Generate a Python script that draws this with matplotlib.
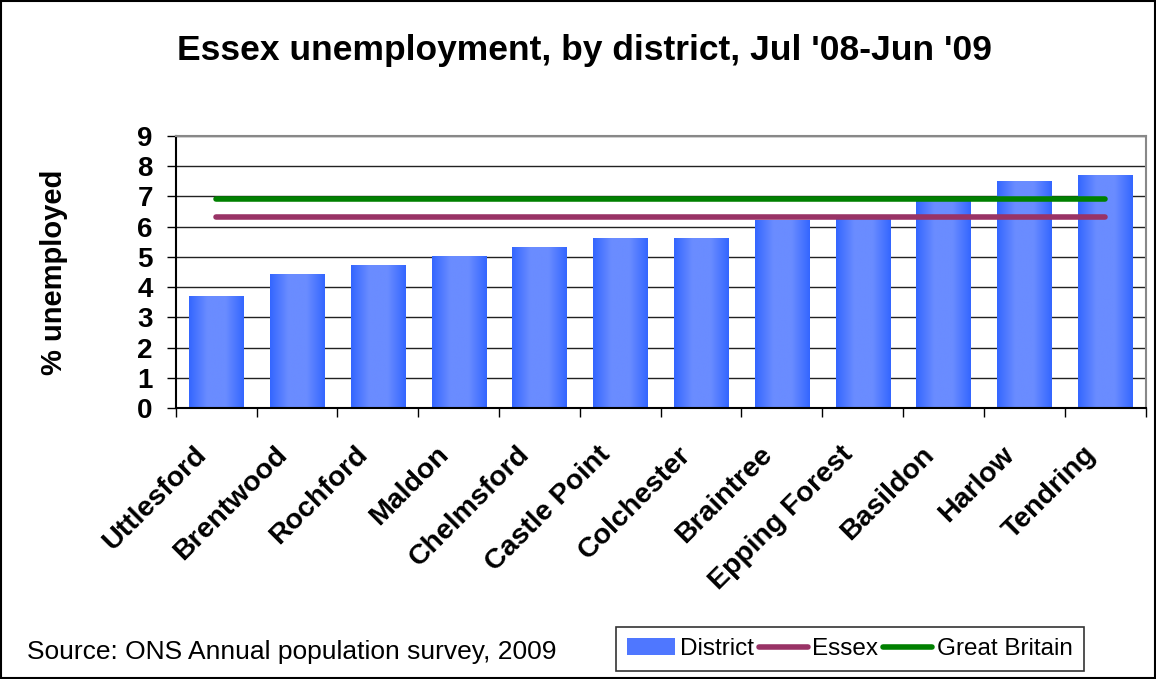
import numpy as np
import matplotlib.pyplot as plt
from matplotlib.colors import LinearSegmentedColormap
from matplotlib.patches import Patch, Rectangle
from matplotlib.lines import Line2D
import matplotlib.transforms as mtransforms

plt.rcParams['font.family'] = ['Liberation Sans', 'DejaVu Sans']

districts = ['Uttlesford', 'Brentwood', 'Rochford', 'Maldon', 'Chelmsford',
             'Castle Point', 'Colchester', 'Braintree', 'Epping Forest',
             'Basildon', 'Harlow', 'Tendring']
rate = [3.7, 4.4, 4.7, 5.0, 5.3, 5.6, 5.6, 6.2, 6.3, 6.9, 7.5, 7.7]
essex = 6.3
great_britain = 6.9

bar_cmap = LinearSegmentedColormap.from_list('bar', ['#3366ff', '#6a8cff', '#6a8cff', '#3366ff'])

fig = plt.figure(figsize=(11.56, 6.79), dpi=100)
fig.patches.append(Rectangle((0.001, 0.001), 0.998, 0.997, transform=fig.transFigure,
                             fill=False, edgecolor='black', linewidth=1.5))
ax = fig.add_axes([0.152, 0.399, 0.839, 0.401])

x = np.arange(len(districts))
bars = ax.bar(x, rate, width=0.67, color='none', zorder=2)
grad = np.linspace(0, 1, 256).reshape(1, -1)
for b in bars:
    x0, w, h = b.get_x(), b.get_width(), b.get_height()
    ax.imshow(grad, cmap=bar_cmap, aspect='auto', extent=(x0, x0 + w, 0, h), zorder=2)

ax.plot([x[0], x[-1]], [essex, essex], color='#993366', lw=4, solid_capstyle='round', zorder=3)
ax.plot([x[0], x[-1]], [great_britain, great_britain], color='#008000', lw=4,
        solid_capstyle='round', zorder=3)

ax.set_xlim(-0.5, len(districts) - 0.5)
ax.set_ylim(0, 9)
ax.set_yticks(range(10))
ax.set_yticklabels([str(v) for v in range(10)], fontsize=20, fontweight='bold')
ax.yaxis.grid(True, color='#222222', lw=1)
ax.set_axisbelow(True)
ax.set_xticks(x)
ax.set_xticklabels(districts, rotation=45, ha='right', rotation_mode='anchor',
                   fontsize=20.5, fontweight='bold')
ax.tick_params(axis='x', length=0, pad=24)
ax.set_xticks(np.arange(-0.5, len(districts)), minor=True)
ax.tick_params(axis='x', which='minor', length=6.5, width=1)
ax.tick_params(axis='y', length=6.5, width=1, pad=10)
# labels sit a little left of the category centre, as in the original
shift = mtransforms.ScaledTranslation(-16.5 / 72, 0, fig.dpi_scale_trans)
for lbl in ax.get_xticklabels():
    lbl.set_transform(lbl.get_transform() + shift)
ax.set_ylabel('% unemployed', fontsize=21, fontweight='bold', labelpad=50)
for s in ['top', 'right']:
    ax.spines[s].set_color('#888888')
    ax.spines[s].set_linewidth(1.5)
for s in ['left', 'bottom']:
    ax.spines[s].set_color('black')
    ax.spines[s].set_linewidth(1.5)

fig.text(0.506, 0.925, "Essex unemployment, by district, Jul '08-Jun '09",
         ha='center', va='center', fontsize=25.5, fontweight='bold')
fig.text(0.023, 0.04, 'Source: ONS Annual population survey, 2009', fontsize=19,
         va='center')

handles = [Patch(facecolor='#4f77ff', edgecolor='none', label='District'),
           Line2D([], [], color='#993366', lw=4, solid_capstyle='round', label='Essex'),
           Line2D([], [], color='#008000', lw=4, solid_capstyle='round', label='Great Britain')]
leg = fig.legend(handles=handles, loc='center', bbox_to_anchor=(0.735, 0.044), ncol=3,
                 fontsize=17.5, frameon=True, fancybox=False, edgecolor='black',
                 handlelength=2.0, handletextpad=0.2, columnspacing=0.2, borderpad=0.45)
leg.get_frame().set_linewidth(1.2)

fig.savefig('out.png', dpi=100)
